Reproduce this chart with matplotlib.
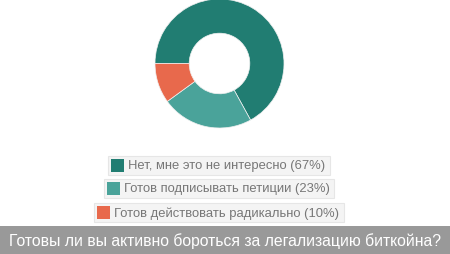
import matplotlib
matplotlib.use("Agg")
import matplotlib.pyplot as plt
from matplotlib.patches import Rectangle

plt.rcParams['font.family'] = ['Liberation Sans', 'DejaVu Sans']

labels = ['Нет, мне это не интересно (67%)',
          'Готов подписывать петиции (23%)',
          'Готов действовать радикально (10%)']
values = [67, 23, 10]
colors = ['#217d72', '#4aa39a', '#e8694c']
title = 'Готовы ли вы активно бороться за легализацию биткойна?'

W, H = 450, 255
fig = plt.figure(figsize=(W / 100, H / 100), dpi=100)

# background overlay in pixel coords
bg = fig.add_axes([0, 0, 1, 1])
bg.set_xlim(0, W)
bg.set_ylim(H, 0)
bg.axis('off')

# donut
cx, cy, r = 219.5, 64.5, 64.5
pax = fig.add_axes([(cx - r) / W, 1 - (cy + r) / H, 2 * r / W, 2 * r / H])
pax.pie(values, colors=colors, startangle=180, counterclock=False, radius=1,
        wedgeprops=dict(width=0.53, linewidth=0.5, edgecolor='#f0f0f0'))
pax.set_xlim(-1, 1)
pax.set_ylim(-1, 1)
pax.axis('off')

# legend entries
renderer = fig.canvas.get_renderer()
leg_cx = 219
leg_y = [166.5, 189.5, 213.5]
for lab, col, yc in zip(labels, colors, leg_y):
    t = bg.text(0, yc, lab, fontsize=9.4, color='#777777', va='center', ha='left')
    w = t.get_window_extent(renderer).width
    bw = 3 + 13 + 4 + w + 5
    left = leg_cx - bw / 2
    bg.add_patch(Rectangle((left, yc - 9.5), bw, 19, facecolor='#f4f4f4',
                           edgecolor='#e6e6e6', linewidth=0.8, zorder=0))
    bg.add_patch(Rectangle((left + 3, yc - 6.5), 13, 13, facecolor=col,
                           edgecolor='none', zorder=1))
    t.set_x(left + 3 + 13 + 4)

# title bar
bg.add_patch(Rectangle((0, 227), W, 28, facecolor='#999999', edgecolor='none'))
bg.text(W / 2, 241, title, fontsize=11.3, color='white', ha='center', va='center')

fig.savefig('out.png', dpi=100)
